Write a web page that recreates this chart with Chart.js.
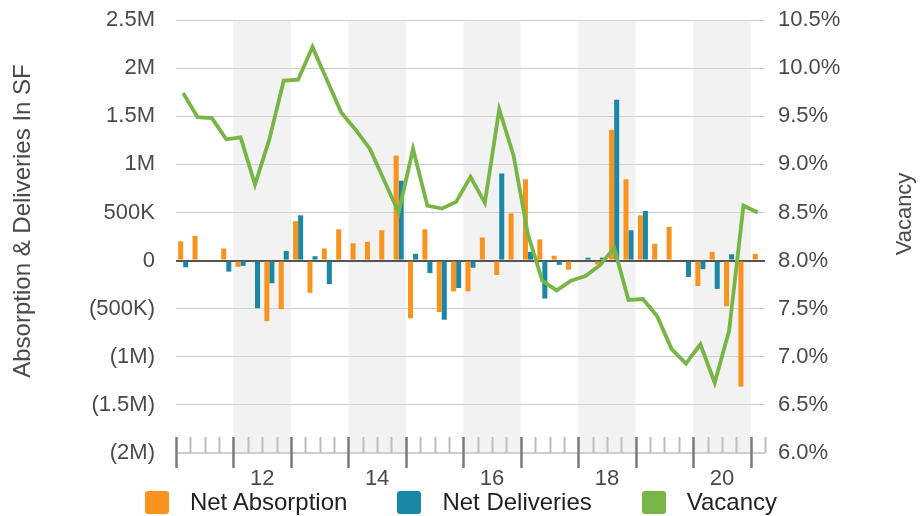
<!DOCTYPE html>
<html>
<head>
<meta charset="utf-8">
<script src="https://cdn.jsdelivr.net/npm/chart.js@4"></script>
<style>
  body { margin: 0; background: #fff; }
  #wrap { position: relative; width: 922px; height: 516px; }
  #legend {
    position: absolute; left: 0; right: 0; top: 488px;
    display: flex; justify-content: center;
    font-family: "Liberation Sans", Arial, sans-serif; font-size: 24px; color: #222;
  }
  .item { display: flex; align-items: center; margin: 0 25px; }
  .box { width: 24px; height: 23px; border-radius: 3px; margin-right: 21px; }
</style>
</head>
<body>
<div id="wrap">
  <canvas id="chart" width="922" height="516"></canvas>
  <div id="legend"></div>
</div>
<script>
// Quarterly data, 2011 Q1 - 2021 Q1
const quarters = [
  '2011 Q1', '2011 Q2', '2011 Q3', '2011 Q4',
  '2012 Q1', '2012 Q2', '2012 Q3', '2012 Q4',
  '2013 Q1', '2013 Q2', '2013 Q3', '2013 Q4',
  '2014 Q1', '2014 Q2', '2014 Q3', '2014 Q4',
  '2015 Q1', '2015 Q2', '2015 Q3', '2015 Q4',
  '2016 Q1', '2016 Q2', '2016 Q3', '2016 Q4',
  '2017 Q1', '2017 Q2', '2017 Q3', '2017 Q4',
  '2018 Q1', '2018 Q2', '2018 Q3', '2018 Q4',
  '2019 Q1', '2019 Q2', '2019 Q3', '2019 Q4',
  '2020 Q1', '2020 Q2', '2020 Q3', '2020 Q4',
  '2021 Q1'
];

const netAbsorption = [
  200000, 255000, 0, 125000,
  -65000, 0, -630000, -505000,
  410000, -335000, 125000, 325000,
  180000, 195000, 315000, 1090000,
  -600000, 325000, -535000, -320000,
  -320000, 240000, -150000, 490000,
  845000, 220000, 50000, -95000,
  0, -40000, 1360000, 845000,
  470000, 175000, 350000, 0,
  -265000, 90000, -475000, -1310000,
  70000
];

const netDeliveries = [
  -70000, 0, 0, -115000,
  -55000, -495000, -235000, 100000,
  470000, 45000, -245000, 0,
  0, 0, 0, 830000,
  70000, -130000, -615000, -285000,
  -75000, 0, 905000, 0,
  90000, -395000, -45000, 0,
  30000, 30000, 1670000, 315000,
  515000, 0, 0, -170000,
  -90000, -295000, 65000, 0,
  0
];

const vacancy = [
  9.74, 9.49, 9.48, 9.26,
  9.28, 8.79, 9.26, 9.87,
  9.88, 10.22, 9.88, 9.54,
  9.36, 9.16, 8.83, 8.50,
  9.16, 8.57, 8.54, 8.61,
  8.87, 8.60, 9.57, 9.09,
  8.27, 7.79, 7.69, 7.79,
  7.84, 7.95, 8.13, 7.59,
  7.60, 7.42, 7.08, 6.93,
  7.13, 6.73, 7.27, 8.57,
  8.50
];

const FONT = '"Liberation Sans", Arial, sans-serif';
const TEXT = '#4a4a4a';

function formatSF(v) {
  if (v === 0) return '0';
  const a = Math.abs(v);
  const s = a >= 1000000 ? (a / 1000000) + 'M' : (a / 1000) + 'K';
  return v < 0 ? '(' + s + ')' : s;
}

// Year bands, quarter ticks, year labels and axis titles
const decorations = {
  id: 'decorations',
  beforeDraw(chart) {
    const ctx = chart.ctx;
    const x = chart.scales.x;
    const area = chart.chartArea;
    const step = x.getPixelForValue(1) - x.getPixelForValue(0);
    ctx.save();
    ctx.fillStyle = '#f2f2f2';
    quarters.forEach((q, i) => {
      const year = parseInt(q);
      if (q.endsWith('Q1') && year % 2 === 0) {
        const left = x.getPixelForValue(i) - step / 2;
        const right = Math.min(left + step * 4, area.right);
        ctx.fillRect(left, area.top, right - left, area.bottom - area.top);
      }
    });
    ctx.restore();
  },
  afterDraw(chart) {
    const ctx = chart.ctx;
    const x = chart.scales.x;
    const area = chart.chartArea;
    const step = x.getPixelForValue(1) - x.getPixelForValue(0);
    ctx.save();
    // baseline
    ctx.strokeStyle = '#cfcfcf';
    ctx.lineWidth = 2;
    ctx.beginPath();
    ctx.moveTo(area.left, area.bottom);
    ctx.lineTo(area.right, area.bottom);
    ctx.stroke();
    // quarter ticks
    for (let i = 0; i <= quarters.length; i++) {
      const px = Math.round(x.getPixelForValue(0) - step / 2 + i * step) + 0.5;
      const major = i < quarters.length && quarters[i].endsWith('Q1');
      ctx.beginPath();
      if (major) {
        ctx.strokeStyle = '#7a7a7a';
        ctx.lineWidth = 2.5;
        ctx.moveTo(px, area.bottom - 16);
        ctx.lineTo(px, area.bottom + 15);
      } else {
        ctx.strokeStyle = '#bdbdbd';
        ctx.lineWidth = 2;
        ctx.moveTo(px, area.bottom - 16);
        ctx.lineTo(px, area.bottom);
      }
      ctx.stroke();
    }
    // year labels, centred on each even year
    ctx.fillStyle = TEXT;
    ctx.font = '22px ' + FONT;
    ctx.textAlign = 'center';
    ctx.textBaseline = 'middle';
    quarters.forEach((q, i) => {
      const year = parseInt(q);
      if (q.endsWith('Q3') && year % 2 === 0) {
        ctx.fillText(String(year).slice(2), x.getPixelForValue(i) - step / 2, area.bottom + 26);
      }
    });
    // axis titles
    ctx.font = '24px ' + FONT;
    ctx.translate(23, 221);
    ctx.rotate(-Math.PI / 2);
    ctx.fillText('Absorption & Deliveries In SF', 0, 0);
    ctx.restore();
    ctx.save();
    ctx.fillStyle = TEXT;
    ctx.font = '22px ' + FONT;
    ctx.textAlign = 'center';
    ctx.textBaseline = 'middle';
    ctx.translate(905, 214);
    ctx.rotate(-Math.PI / 2);
    ctx.fillText('Vacancy', 0, 0);
    ctx.restore();
  }
};

const chart = new Chart(document.getElementById('chart'), {
  type: 'bar',
  data: {
    labels: quarters,
    datasets: [
      {
        label: 'Net Absorption',
        data: netAbsorption,
        backgroundColor: '#f7931e',
        yAxisID: 'y',
        barPercentage: 1.0,
        categoryPercentage: 0.7
      },
      {
        label: 'Net Deliveries',
        data: netDeliveries,
        backgroundColor: '#1b87a6',
        yAxisID: 'y',
        barPercentage: 1.0,
        categoryPercentage: 0.7
      },
      {
        type: 'line',
        label: 'Vacancy',
        data: vacancy,
        borderColor: '#77b646',
        backgroundColor: '#77b646',
        borderWidth: 3.8,
        pointRadius: 0,
        tension: 0,
        yAxisID: 'y1',
        order: -1
      }
    ]
  },
  options: {
    responsive: false,
    animation: false,
    layout: { padding: { top: 20, left: 0, right: 0, bottom: 0 } },
    plugins: {
      legend: { display: false },
      tooltip: { enabled: false }
    },
    scales: {
      x: {
        grid: { display: false },
        border: { display: false },
        ticks: { display: false },
        afterFit(scale) { scale.height = 63; }
      },
      y: {
        position: 'left',
        min: -2000000,
        max: 2500000,
        border: { display: false },
        grid: {
          drawTicks: false,
          color: ctx => ctx.tick.value === 0 ? '#555555' : (ctx.tick.value === -2000000 ? 'rgba(0,0,0,0)' : '#d0d0d0'),
          lineWidth: ctx => ctx.tick.value === 0 ? 2 : 1
        },
        ticks: {
          stepSize: 500000,
          padding: 21,
          color: TEXT,
          font: { family: FONT, size: 22 },
          callback: v => formatSF(v)
        },
        afterFit(scale) {
          scale.width = 176;
          scale.paddingTop = 0;
          scale.paddingBottom = 0;
        }
      },
      y1: {
        position: 'right',
        min: 6,
        max: 10.5,
        border: { display: false },
        grid: { display: false, drawTicks: false },
        ticks: {
          stepSize: 0.5,
          padding: 13,
          color: TEXT,
          font: { family: FONT, size: 22 },
          callback: v => v.toFixed(1) + '%'
        },
        afterFit(scale) {
          scale.width = 157;
          scale.paddingTop = 0;
          scale.paddingBottom = 0;
        }
      }
    }
  },
  plugins: [decorations]
});

// HTML legend built from the datasets
const legend = document.getElementById('legend');
chart.data.datasets.forEach(ds => {
  const item = document.createElement('div');
  item.className = 'item';
  const box = document.createElement('span');
  box.className = 'box';
  box.style.background = ds.type === 'line' ? ds.borderColor : ds.backgroundColor;
  const label = document.createElement('span');
  label.textContent = ds.label;
  item.appendChild(box);
  item.appendChild(label);
  legend.appendChild(item);
});
</script>
</body>
</html>
